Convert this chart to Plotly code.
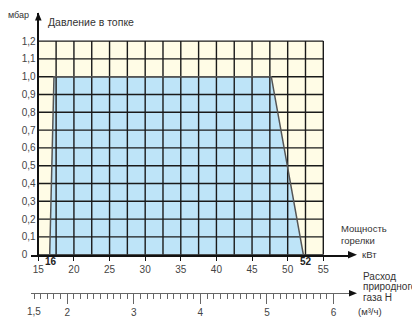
import plotly.graph_objects as go

# ---------------- data ----------------
power_ticks = [15, 20, 25, 30, 35, 40, 45, 50, 55]          # kW axis labels
pressure_ticks = [0, 0.1, 0.2, 0.3, 0.4, 0.5, 0.6, 0.7, 0.8, 0.9, 1.0, 1.1, 1.2]
pressure_labels = ["0\u00a0\u00a0\u00a0", "0,1", "0,2", "0,3", "0,4", "0,5", "0,6",
                   "0,7", "0,8", "0,9", "1,0", "1,1", "1,2"]
grid_power = [15, 17.5, 20, 22.5, 25, 27.5, 30, 32.5, 35, 37.5, 40,
              42.5, 45, 47.5, 50, 52.5, 55]
gas_ticks = [2, 3, 4, 5, 6]
gas_labels = ["2", "3", "4", "5", "6"]
gas_first = 1.5
gas_first_label = "1,5"
gas_minor = [1.5, 1.6, 1.7, 1.8, 1.9,
             2.1, 2.2, 2.3, 2.4, 2.5, 2.6, 2.7, 2.8, 2.9,
             3.1, 3.2, 3.3, 3.4, 3.5, 3.6, 3.7, 3.8, 3.9,
             4.1, 4.2, 4.3, 4.4, 4.5, 4.6, 4.7, 4.8, 4.9,
             5.1, 5.2, 5.3, 5.4, 5.5, 5.6, 5.7, 5.8, 5.9]
# working range polygon (kW, mbar)
range_power = [16.6, 17.2, 47.7, 52.2]
range_pressure = [0, 1.0, 1.0, 0]
min_label, max_label = "16", "52"

# ---------------- geometry helpers ----------------
W, H = 412, 317
ML, MR, MT, MB = 31, 62, 13, 24
PW, PH = W - ML - MR, H - MT - MB


def px(x):
    return (x - ML) / PW


def py(y):
    return (H - MB - y) / PH


FONT = "Liberation Sans Narrow, Liberation Sans, Arial, sans-serif"
TICKFONT = "Liberation Sans, Arial, sans-serif"
TXT = "#333333"

fig = go.Figure()

# blue working area
fig.add_trace(go.Scatter(x=range_power, y=range_pressure, fill="toself",
                         fillcolor="#BEE4F8", mode="none", hoverinfo="skip",
                         showlegend=False))

# grid (drawn above fill)
gx, gy = [], []
for v in grid_power:
    gx += [v, v, None]
    gy += [pressure_ticks[0], pressure_ticks[-1], None]
for h in pressure_ticks:
    gx += [grid_power[0], grid_power[-1], None]
    gy += [h, h, None]
fig.add_trace(go.Scatter(x=gx, y=gy, mode="lines",
                         line=dict(color="#1a1a1a", width=1.4),
                         hoverinfo="skip", showlegend=False))

# outline of working area
fig.add_trace(go.Scatter(x=range_power, y=range_pressure, mode="lines",
                         line=dict(color="#555555", width=1.5),
                         hoverinfo="skip", showlegend=False))

# dummy trace for the gas axis
fig.add_trace(go.Scatter(x=[gas_first], y=[0], xaxis="x2", mode="markers",
                         marker=dict(opacity=0), hoverinfo="skip",
                         showlegend=False))

# cream background of the diagram
fig.add_shape(type="rect", x0=grid_power[0], x1=grid_power[-1],
              y0=pressure_ticks[0], y1=pressure_ticks[-1],
              fillcolor="#FFFCE6", line=dict(width=0), layer="below")

# arrows
def tri(tipx, tipy, basex0, basey0, basex1, basey1):
    return (f"M{px(tipx)},{py(tipy)} L{px(basex0)},{py(basey0)} "
            f"L{px(basex1)},{py(basey1)} Z")

for path in [tri(357, 254.7, 348, 250.9, 348, 258.5),
             tri(38.3, 12.5, 35.0, 20.5, 41.6, 20.5),
             tri(357, 293.3, 349, 290.0, 349, 296.6)]:
    fig.add_shape(type="path", path=path, xref="paper", yref="paper",
                  fillcolor="#111111", line=dict(width=0))

x_lo = 15 - (38.3 - ML) / 7.125
x_hi = x_lo + PW / 7.125
g_lo = 1.5 - (34 - ML) / 66.56
g_hi = g_lo + PW / 66.56
y_dom0 = (H - MB - 254.7) / PH
y_hi = (254.7 - MT) / 178.0

fig.update_layout(
    width=W, height=H,
    margin=dict(l=ML, r=MR, t=MT, b=MB, autoexpand=False),
    paper_bgcolor="white", plot_bgcolor="rgba(0,0,0,0)",
    font=dict(family=TICKFONT, size=10, color=TXT),
    showlegend=False,
    xaxis=dict(range=[x_lo, x_hi], anchor="y", showgrid=False, zeroline=False,
               automargin=False,
               showline=True, linecolor="#111111", linewidth=1.5,
               tickmode="array", tickvals=power_ticks,
               ticktext=[str(v) for v in power_ticks],
               ticks="outside", ticklen=5, tickwidth=1.3, tickcolor="#111111",
               tickfont=dict(size=10, color="#444444")),
    xaxis2=dict(range=[g_lo, g_hi], overlaying="x", anchor="free", position=0,
                side="bottom", showgrid=False, zeroline=False, automargin=False,
                showline=True, linecolor="#666666", linewidth=1,
                tickmode="array", tickvals=gas_ticks, ticktext=gas_labels,
                ticks="outside", ticklen=10, tickwidth=1, tickcolor="#666666",
                tickfont=dict(size=10, color="#444444"),
                minor=dict(tickmode="array", tickvals=gas_minor, ticks="outside",
                           ticklen=5, tickwidth=1, tickcolor="#666666")),
    yaxis=dict(range=[0, y_hi], domain=[y_dom0, 1], anchor="free",
               position=px(38.3), showgrid=False, zeroline=False,
               automargin=False,
               showline=True, linecolor="#111111", linewidth=1.5,
               tickmode="array", tickvals=pressure_ticks,
               ticktext=pressure_labels, ticks="",
               tickfont=dict(size=10, color="#444444")),
)

def note(text, x, y, size=10, xanchor="left", bold=False):
    fig.add_annotation(text=f"<b>{text}</b>" if bold else text,
                       x=px(x), y=py(y), xref="paper", yref="paper",
                       xanchor=xanchor, yanchor="middle", align="left",
                       showarrow=False,
                       font=dict(size=size, color=TXT, family=FONT))

note("мбар", 6, 15, size=9)
note("Давление в топке", 46, 22.5, size=10.5)
note("Мощность<br>горелки", 339, 234, size=9.5)
note("кВт", 360, 254.5, size=9.5)
note("Расход", 361, 276, size=10)
note("природного", 361, 286.5, size=10)
note("газа Н", 361, 297, size=10)
note("(м³/ч)", 356, 311.7, size=9.5)

# bold min / max labels at the working range ends
fig.add_annotation(text=f"<b>{min_label}</b>", x=range_power[0], xref="x",
                   y=py(261), yref="paper", yanchor="middle", xshift=1,
                   showarrow=False, font=dict(size=10, color="#222222"))
fig.add_annotation(text=f"<b>{max_label}</b>", x=range_power[-1], xref="x",
                   y=py(261), yref="paper", yanchor="middle", xshift=3,
                   showarrow=False, font=dict(size=10, color="#222222"))
# first label of the gas axis
fig.add_annotation(text=gas_first_label, x=gas_first, xref="x2",
                   y=py(311.7), yref="paper", yanchor="middle", showarrow=False,
                   font=dict(size=10, color="#444444"))

fig.write_html("out.html", config={"displayModeBar": False},
               post_script="document.body.style.margin='0';"
                           "document.body.style.overflow='hidden';")
